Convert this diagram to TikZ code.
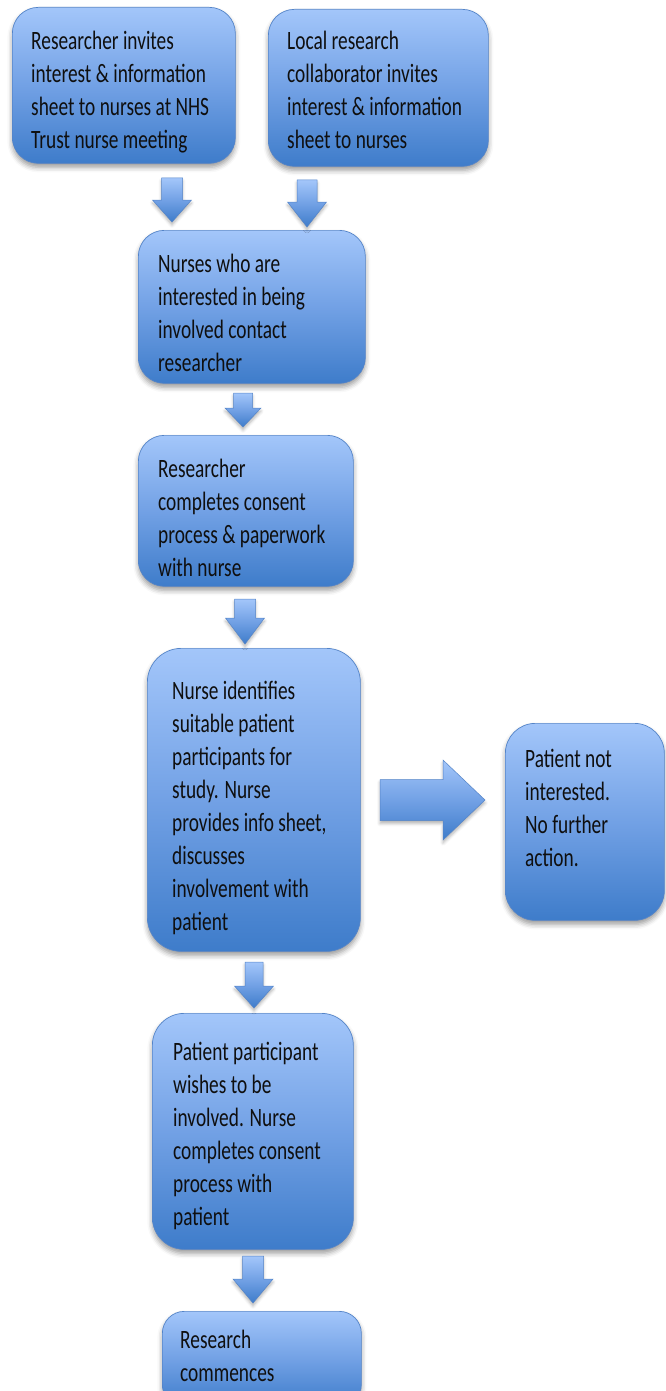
\documentclass[tikz,border=0pt]{standalone}
\usepackage{fontspec}
\setmainfont{Carlito}[FakeStretch=0.73]
\usetikzlibrary{shadows,shadows.blur,calc}
\definecolor{bxtop}{RGB}{163,198,250}
\definecolor{bxmid}{RGB}{114,161,229}
\definecolor{bxbot}{RGB}{62,124,202}
\definecolor{bxline}{RGB}{84,132,200}
\definecolor{txtc}{RGB}{15,15,15}
\tikzset{
  box/.style={draw=bxline, line width=0.7pt, rounded corners=#1,
    top color=bxtop, bottom color=bxbot, middle color=bxmid,
    anchor=north west, inner sep=0pt,
    blur shadow={shadow xshift=0pt, shadow yshift=-4pt, shadow blur radius=5pt, shadow opacity=40}},
  box/.default=26pt,
  lbl/.style={anchor=base west, inner sep=0pt, text=txtc, font=\fontsize{26.5}{33}\selectfont},
  arr/.style={draw=bxline, line width=0.5pt,
    top color=bxtop, bottom color=bxbot, middle color=bxmid,
    blur shadow={shadow xshift=0pt, shadow yshift=-3pt, shadow blur radius=3pt, shadow opacity=30}},
  pics/downarr/.style n args={4}{code={
    \path[arr] (-#1/2,0) -- (#1/2,0) -- (#1/2,#3) -- (#2/2,#3) -- (0,#4)
      -- (-#2/2,#3) -- (-#1/2,#3) -- cycle;}},
  pics/rightarr/.style n args={4}{code={
    \path[arr] (0,-#1/2) -- (#3,-#1/2) -- (#3,-#2/2) -- (#4,0) -- (#3,#2/2)
      -- (#3,#1/2) -- (0,#1/2) -- cycle;}}
}
\begin{document}
\begin{tikzpicture}[x=1pt,y=-1pt]
\useasboundingbox (0,0) rectangle (666,1391);

% boxes
\node[box, minimum width=223pt, minimum height=156pt] (A) at (12,7) {};
\node[box, minimum width=220pt, minimum height=157pt] (B) at (268,9) {};
\node[box, minimum width=227pt, minimum height=153pt] (C) at (138,230) {};
\node[box, minimum width=215pt, minimum height=151pt] (D) at (138,435) {};
\node[box=34pt, minimum width=213pt, minimum height=303pt] (E) at (147,648) {};
\node[box=30pt, minimum width=159pt, minimum height=197pt] (F) at (505,723) {};
\node[box=32pt, minimum width=201pt, minimum height=236pt] (G) at (152,1013) {};
\node[box=22pt, minimum width=199pt, minimum height=95pt] (H) at (162,1311) {};

% texts
\node[lbl] (At) at (31,50) {\parbox[t]{220pt}{Researcher invites\\interest \& information\\sheet to nurses at NHS\\Trust nurse meeting}};
\node[lbl] (Bt) at (287,50) {\parbox[t]{220pt}{Local research\\collaborator invites\\interest \& information\\sheet to nurses}};
\node[lbl] (Ct) at (158,272) {\parbox[t]{220pt}{Nurses who are\\interested in being\\involved contact\\researcher}};
\node[lbl] (Dt) at (158,477) {\parbox[t]{220pt}{Researcher\\completes consent\\process \& paperwork\\with nurse}};
\node[lbl] (Et) at (172,699) {\parbox[t]{220pt}{Nurse identifies\\suitable patient\\participants for\\study. Nurse\\provides info sheet,\\discusses\\involvement with\\patient}};
\node[lbl] (Ft) at (525,767) {\parbox[t]{200pt}{Patient not\\interested.\\No further\\action.}};
\node[lbl] (Gt) at (173,1060) {\parbox[t]{220pt}{Patient participant\\wishes to be\\involved. Nurse\\completes consent\\process with\\patient}};
\node[lbl] (Ht) at (180,1348) {\parbox[t]{220pt}{Research\\commences}};

% block arrows
\pic (a1) at (172,178) {downarr={21}{39}{22}{44}};
\pic (a2) at (307,180) {downarr={20}{39}{22}{47}};
\pic (a3) at (243,393) {downarr={19}{36}{15}{34}};
\pic (a4) at (245,599) {downarr={21}{39}{19}{45}};
\pic (a5) at (380,800) {rightarr={41}{80}{63}{105}};
\pic (a6) at (254,962) {downarr={18}{39}{24}{46}};
\pic (a7) at (253,1256) {downarr={21}{40}{23}{47}};
\end{tikzpicture}
\end{document}
